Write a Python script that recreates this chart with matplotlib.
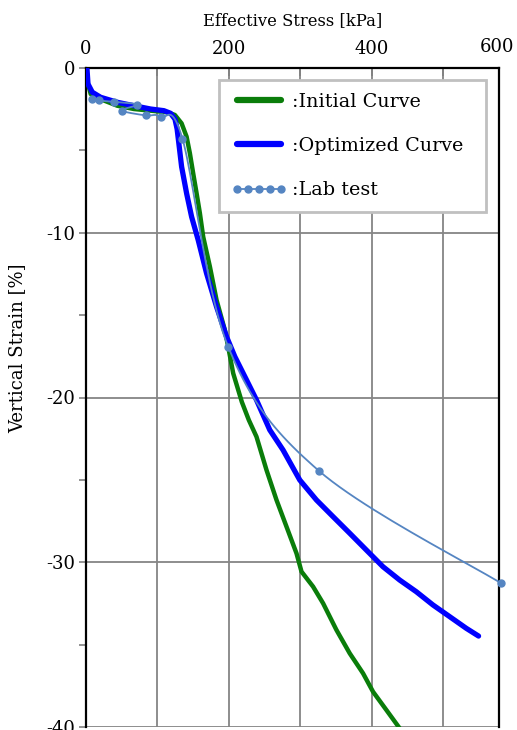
import numpy as np
import matplotlib.pyplot as plt
from matplotlib.lines import Line2D

plt.rcParams['font.family'] = ['DejaVu Serif']
plt.rcParams['axes.unicode_minus'] = False

# effective stress [kPa] and vertical strain [%]
init_stress = [0, 2.8, 6.6, 19.6, 43.8, 67.1, 90.5, 113.7, 124.4, 133.8, 140.8,
               145.4, 150.0, 154.8, 159.4, 164.0, 173.4, 182.7, 194.3, 199.0,
               206.0, 218.1, 227.9, 238.6, 252.6, 266.6, 280.6, 294.6, 301.6,
               317.8, 331.8, 350.5, 369.1, 387.7, 401.7, 420.4, 439.0]
init_strain = [0, -0.97, -1.58, -1.88, -2.29, -2.49, -2.59, -2.69, -2.85, -3.36,
               -4.17, -5.18, -6.39, -7.61, -8.82, -10.24, -12.06, -14.08, -15.90,
               -16.92, -18.53, -20.27, -21.37, -22.38, -24.40, -26.22, -27.84,
               -29.46, -30.57, -31.48, -32.49, -34.11, -35.53, -36.74, -37.86,
               -38.97, -40.08]

opt_stress = [0, 1.4, 2.8, 8.8, 20.6, 43.8, 67.1, 90.5, 109.0, 118.4, 124.5,
              127.5, 130.0, 133.8, 140.8, 147.8, 157.0, 168.7, 182.7, 196.7,
              208.3, 224.7, 238.6, 257.2, 275.8, 299.2, 322.5, 345.7, 369.1,
              392.4, 415.6, 439.0, 462.3, 485.5, 508.9, 532.2, 549.4]
opt_strain = [0, -0.06, -0.97, -1.47, -1.78, -2.08, -2.29, -2.49, -2.59, -2.75,
              -3.10, -3.70, -4.60, -5.99, -7.61, -9.03, -10.44, -12.46, -14.49,
              -16.31, -17.52, -18.94, -20.15, -21.97, -23.19, -25.01, -26.22,
              -27.23, -28.24, -29.26, -30.27, -31.08, -31.79, -32.59, -33.30,
              -34.01, -34.48]

lab_stress = [8.1, 18.5, 39.1, 71.7, 50.3, 83.6, 104.3, 134.9, 199.0, 326.2, 581.2]
lab_strain = [-1.88, -1.97, -2.06, -2.22, -2.58, -2.88, -2.96, -4.28, -16.92,
              -24.46, -31.28]

x_ticks = [0, 100, 200, 300, 400, 500]
x_tick_labels = ['0', '', '200', '', '400', '']
y_ticks = [0, -10, -20, -30, -40]
y_minor = [-5, -15, -25, -35]

XMAX = 578
YMIN = -40


def smooth_path(x, y, xspan, yspan, n=24):
    """Catmull-Rom curve through the points, computed in axes-normalised units."""
    p = np.column_stack([np.asarray(x) / xspan, np.asarray(y) / yspan])
    p = np.vstack([p[0], p, p[-1]])
    out = []
    t = np.linspace(0, 1, n)[:, None]
    for i in range(1, len(p) - 2):
        p0, p1, p2, p3 = p[i - 1], p[i], p[i + 1], p[i + 2]
        seg = 0.5 * (2 * p1 + (-p0 + p2) * t
                     + (2 * p0 - 5 * p1 + 4 * p2 - p3) * t ** 2
                     + (-p0 + 3 * p1 - 3 * p2 + p3) * t ** 3)
        out.append(seg if i == 1 else seg[1:])
    out = np.vstack(out)
    return out[:, 0] * xspan, out[:, 1] * yspan


fig = plt.figure(figsize=(5.17, 7.30), dpi=100)
ax = fig.add_axes([86 / 517, 3 / 730, 413 / 517, 659 / 730])

green = '#0a7d0a'
blue = '#0000ff'
lab_col = '#5585c2'

ax.plot(init_stress, init_strain, color=green, lw=3.2, solid_capstyle='round', zorder=3)
ax.plot(opt_stress, opt_strain, color=blue, lw=3.8, solid_capstyle='round', zorder=4)
sx, sy = smooth_path(lab_stress, lab_strain, XMAX, 40)
ax.plot(sx, sy, color=lab_col, lw=1.3, zorder=5, clip_on=False)
ax.plot(lab_stress, lab_strain, 'o', color=lab_col, ms=5, zorder=6, clip_on=False)

ax.set_xlim(0, XMAX)
ax.set_ylim(YMIN, 0)

ax.set_xticks(x_ticks)
ax.set_xticklabels(x_tick_labels)
ax.set_yticks(y_ticks)
ax.set_yticks(y_minor, minor=True)
ax.grid(True, which='major', color='#858585', lw=1.3)
ax.set_axisbelow(True)

ax.xaxis.tick_top()
ax.xaxis.set_label_position('top')
ax.tick_params(axis='x', which='both', direction='in', length=6, width=1.2,
               color='#808080', pad=7, labelsize=13)
ax.tick_params(axis='y', which='both', direction='out', length=5, width=1.2,
               color='#808080', pad=3, labelsize=13)
# right-hand end of the stress axis carries its own label
ax.text(497 / 517, 1 - 47 / 730, '600', transform=fig.transFigure,
        ha='center', va='center', fontsize=13)

ax.set_xlabel('Effective Stress [kPa]', labelpad=11, fontsize=11.8)
ax.set_ylabel('Vertical Strain [%]', fontsize=13)
ax.yaxis.set_label_coords(-0.145, 0.575)

for side in ['top', 'left', 'right']:
    ax.spines[side].set_linewidth(1.6)
    ax.spines[side].set_color('black')
ax.spines['bottom'].set_visible(False)

handles = [
    Line2D([], [], color=green, lw=4.5, solid_capstyle='round'),
    Line2D([], [], color=blue, lw=4.5, solid_capstyle='round'),
    Line2D([], [], color=lab_col, lw=1.3, marker='o', ms=5),
]
leg = ax.legend(handles, [':Initial Curve', ':Optimized Curve', ':Lab test'],
                loc='upper left', bbox_to_anchor=(0.322, 0.5, 0.647, 0.482),
                mode='expand', borderaxespad=0,
                fontsize=13.8, frameon=True, fancybox=False, numpoints=5,
                handlelength=2.9, handletextpad=0.25, labelspacing=1.38,
                borderpad=0.66)
leg.get_frame().set_edgecolor('#c0c0c0')
leg.get_frame().set_linewidth(2)
leg.get_frame().set_alpha(1)
leg.set_zorder(10)

fig.savefig('out.png', dpi=100)
